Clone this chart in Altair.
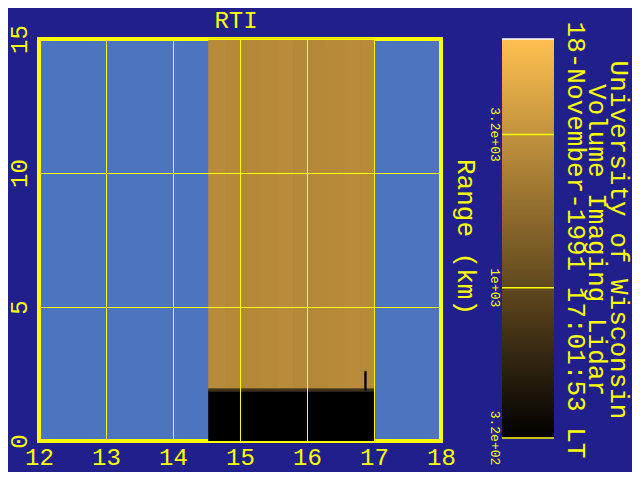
import altair as alt
import pandas as pd

# ---------------- data ----------------
x_ticks = [12, 13, 14, 15, 16, 17, 18]
y_ticks = [0, 5, 10, 15]

# lidar backscatter strips (range-time intensity), x in hours, y in km
strip_x0 = [14.53, 14.80, 15.05, 15.30, 15.55, 15.80, 16.05, 16.30, 16.55, 16.80]
strip_x1 = [14.80, 15.05, 15.30, 15.55, 15.80, 16.05, 16.30, 16.55, 16.80, 17.01]
strip_y0 = [1.95] * 10
strip_y1 = [15.0] * 10
strip_v = [2850, 2790, 2740, 2810, 2860, 2770, 2750, 2820, 2880, 2830]

# near-field (blocked) region, transition band and a spike
extra_x0 = [14.53, 14.53, 16.86]
extra_x1 = [17.01, 17.01, 16.885]
extra_y0 = [0.0, 1.86, 1.9]
extra_y1 = [1.86, 1.95, 2.6]
extra_v = [100, 700, 330]

cbar_lo = [320]
cbar_hi = [6600]
cbar_ticks = [320, 1000, 3200]
cbar_labels = ["3.2e+02", "1e+03", "3.2e+03"]

info_lines = ["University of Wisconsin", "Volume Imaging Lidar", "18-November-1991 17:01:53 LT"]
y_title = "Range (km)"
title = "RTI"

# ---------------- styles ----------------
BG = "#211f8b"
PLOT = "#4d74bf"
YEL = "#ffff00"
FONT = "Liberation Mono"

df = pd.DataFrame({
    "x": strip_x0 + extra_x0,
    "x2": strip_x1 + extra_x1,
    "y": strip_y0 + extra_y0,
    "y2": strip_y1 + extra_y1,
    "v": strip_v + extra_v,
})

color_scale = alt.Scale(type="log", domain=[cbar_lo[0], cbar_hi[0]],
                        range=["#000000", "#ffc050"], interpolate="rgb", clamp=True)

axis_common = dict(grid=True, gridColor=YEL, gridWidth=1, gridOpacity=1, domain=False,
                   ticks=False, tickSize=0, labelColor=YEL, labelFont=FONT, labelFontSize=24,
                   labelAlign="center", labelBaseline="middle", zindex=1, title=None,
                   labelFlush=False, labelOverlap=False)

data_layer = alt.Chart(df).mark_rect(strokeWidth=0.6).encode(
    x=alt.X("x:Q", scale=alt.Scale(domain=[12, 18], nice=False, zero=False),
            axis=alt.Axis(values=x_ticks, labelAngle=0, labelPadding=16, **axis_common)),
    x2="x2:Q",
    y=alt.Y("y:Q", scale=alt.Scale(domain=[0, 15], nice=False, zero=False),
            axis=alt.Axis(values=y_ticks, labelAngle=270, labelPadding=20, **axis_common)),
    y2="y2:Q",
    color=alt.Color("v:Q", scale=color_scale, legend=None),
    stroke=alt.Stroke("v:Q", scale=color_scale, legend=None),
)

title_text = alt.Chart(pd.DataFrame({"t": [title]})).mark_text(
    font=FONT, fontSize=24, color=YEL, align="center", baseline="middle"
).encode(x=alt.value(197), y=alt.value(-18), text="t:N")

range_text = alt.Chart(pd.DataFrame({"t": [y_title]})).mark_text(
    angle=90, font=FONT, fontSize=26, color=YEL, align="center", baseline="middle"
).encode(x=alt.value(427), y=alt.value(198), text="t:N")

info_x = [580, 558, 537]
info_layers = [
    alt.Chart(pd.DataFrame({"t": [line]})).mark_text(
        angle=90, font=FONT, fontSize=26, color=YEL, align="center", baseline="middle"
    ).encode(x=alt.value(px), y=alt.value(201), text="t:N")
    for line, px in zip(info_lines, info_x)
]

main = alt.layer(data_layer, title_text, range_text, *info_layers)

cscale = alt.Scale(type="log", domain=[cbar_lo[0], cbar_hi[0]], range=[399, 0])
cbar_df = pd.DataFrame({"lo": cbar_lo, "hi": cbar_hi})
tick_df = pd.DataFrame({"v": cbar_ticks, "label": cbar_labels})

gradient = alt.Gradient(
    gradient="linear",
    stops=[alt.GradientStop(color="#000000", offset=0),
           alt.GradientStop(color="#ffc050", offset=1)],
    x1=0, x2=0, y1=1, y2=0,
)

cbar_rect = alt.Chart(cbar_df).mark_rect(fill=gradient).encode(
    x=alt.value(463), x2=alt.value(515),
    y=alt.Y("hi:Q", scale=cscale, axis=None), y2="lo:Q",
)
cbar_top = alt.Chart(cbar_df).mark_rule(color="white", strokeWidth=1.5).encode(
    x=alt.value(463), x2=alt.value(515), y=alt.Y("hi:Q", scale=cscale, axis=None),
)
cbar_rules = alt.Chart(tick_df).mark_rule(color=YEL, strokeWidth=1.5).encode(
    x=alt.value(463), x2=alt.value(515), y=alt.Y("v:Q", scale=cscale, axis=None),
)
cbar_text = alt.Chart(tick_df).mark_text(
    angle=90, font=FONT, fontSize=13, color=YEL, align="center", baseline="middle"
).encode(x=alt.value(456), y=alt.Y("v:Q", scale=cscale, axis=None), text="label:N")

cbar = alt.layer(cbar_rect, cbar_top, cbar_rules, cbar_text)

chart = alt.layer(main, cbar).resolve_scale(y="independent").properties(
    width=402, height=402,
    padding={"left": 31, "top": 31, "right": 191, "bottom": 31},
    autosize=alt.AutoSizeParams(type="none"),
    background=BG,
).configure_view(fill=PLOT, stroke=YEL, strokeWidth=4)

chart.save("out.html", embed_options={"renderer": "svg", "actions": False})
